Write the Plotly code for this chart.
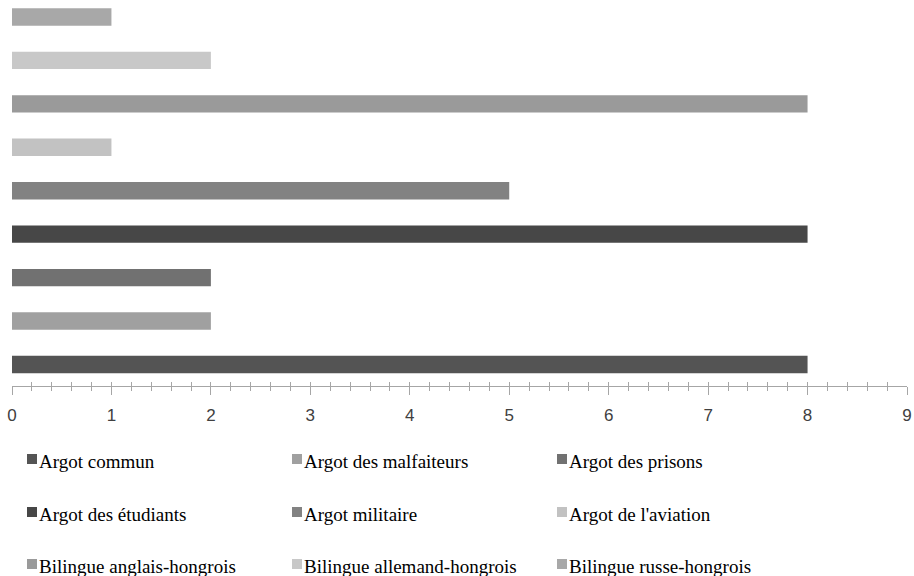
import plotly.graph_objects as go

series_names = [
    "Argot commun",
    "Argot des malfaiteurs",
    "Argot des prisons",
    "Argot des étudiants",
    "Argot militaire",
    "Argot de l'aviation",
    "Bilingue anglais-hongrois",
    "Bilingue allemand-hongrois",
    "Bilingue russe-hongrois",
]
series_values = [8, 2, 2, 8, 5, 1, 8, 2, 1]
series_colors = [
    "#545454", "#a0a0a0", "#717171",
    "#474747", "#828282", "#c2c2c2",
    "#9a9a9a", "#c8c8c8", "#a8a8a8",
]
x_tick_values = [0, 1, 2, 3, 4, 5, 6, 7, 8, 9]

W, H = 914, 576
ML, MR, MT, MB = 12, 7, 0, 190
PW, PH = W - ML - MR, H - MT - MB

fig = go.Figure()
for name, val, col in zip(series_names, series_values, series_colors):
    fig.add_trace(go.Bar(
        y=[name], x=[val], name=name, orientation="h",
        marker=dict(color=col, line=dict(width=0)),
        width=0.4, showlegend=False,
    ))
# helper trace for the overlay axis that draws the upper half of the ticks
fig.add_trace(go.Scatter(x=[0, 9], y=[series_names[0], series_names[0]], xaxis="x2",
                         mode="markers", marker=dict(opacity=0), showlegend=False,
                         hoverinfo="skip"))

axis_col = "#a6a6a6"
fig.update_layout(
    width=W, height=H,
    margin=dict(l=ML, r=MR, t=MT, b=MB),
    paper_bgcolor="white", plot_bgcolor="white",
    barmode="overlay",
    xaxis=dict(
        range=[0, 9], tickvals=x_tick_values, showgrid=False, zeroline=False,
        showline=True, linecolor=axis_col, linewidth=1,
        ticks="outside", ticklen=8, tickcolor=axis_col, tickwidth=1,
        minor=dict(dtick=0.2, ticks="outside", ticklen=4, tickcolor=axis_col, showgrid=False),
        tickfont=dict(family="Liberation Sans", size=17, color="#404040"),
        ticklabelstandoff=6, ticklabeloverflow="allow",
        fixedrange=True,
    ),
    xaxis2=dict(
        range=[0, 9], overlaying="x", anchor="y", side="bottom",
        tickvals=x_tick_values, showgrid=False, zeroline=False, showline=False,
        ticks="inside", ticklen=4, tickcolor=axis_col, tickwidth=1,
        minor=dict(dtick=0.2, ticks="inside", ticklen=4, tickcolor=axis_col, showgrid=False),
        showticklabels=False,
    ),
    yaxis=dict(
        type="category", categoryorder="array", categoryarray=series_names,
        range=[-0.495, 8.39], visible=False,
    ),
)

# Legend: 3 columns x 3 rows below the axis (positions in pixels)
col_text_x = [40, 305, 570]
row_y = [461, 514, 566]
sq = 10
for i, (name, col) in enumerate(zip(series_names, series_colors)):
    r, c = divmod(i, 3)
    tx = col_text_x[c]
    cy = row_y[r]
    x0 = tx - 13
    sc = cy - 2
    fig.add_shape(
        type="rect", xref="paper", yref="paper",
        x0=(x0 - ML) / PW, x1=(x0 + sq - ML) / PW,
        y0=(H - MB - (sc + sq / 2)) / PH, y1=(H - MB - (sc - sq / 2)) / PH,
        fillcolor=col, line=dict(width=0),
    )
    fig.add_annotation(
        x=(tx - ML) / PW, y=(H - MB - cy) / PH, xref="paper", yref="paper",
        xanchor="left", yanchor="middle", showarrow=False, text=name,
        font=dict(family="Liberation Serif", size=19, color="#000000"),
        xshift=-3,
    )

fig.write_html(
    "out.html",
    config={"displayModeBar": False},
    post_script="document.body.style.margin='0';document.body.style.overflow='hidden';",
)
